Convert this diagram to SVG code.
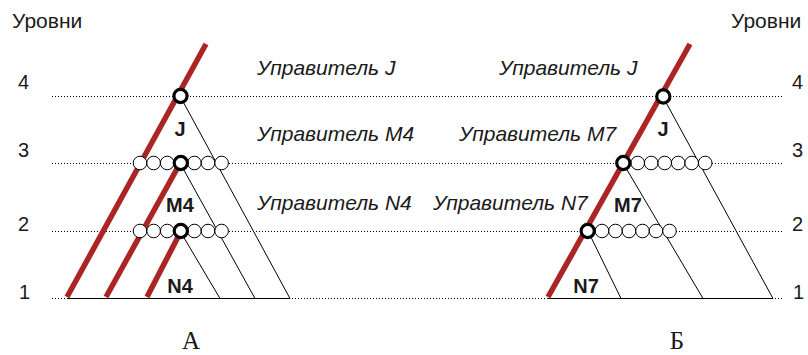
<svg xmlns="http://www.w3.org/2000/svg" width="808" height="355" viewBox="0 0 808 355">
<style>
.lvl{font-family:"Liberation Sans",Arial,sans-serif;font-size:20px;fill:#1a1a1a}
.ttl{font-family:"Liberation Sans",Arial,sans-serif;font-size:21px;fill:#1a1a1a}
.mgr{font-family:"Liberation Sans",Arial,sans-serif;font-size:21px;font-style:italic;fill:#1a1a1a}
.nm{font-family:"Liberation Sans",Arial,sans-serif;font-size:20px;font-weight:bold;fill:#1a1a1a;text-anchor:middle}
.cap{font-family:"Liberation Serif","Times New Roman",serif;font-size:25px;fill:#1a1a1a;text-anchor:middle}
.dot{stroke:#000;stroke-width:1;stroke-dasharray:1 2;fill:none}
.tri{stroke:#000;stroke-width:1;fill:none}
.red{stroke:#ab2524;stroke-width:5.5;fill:none}
.sc{fill:#fff;stroke:#000;stroke-width:1}
.bc{fill:#fff;stroke:#000;stroke-width:3.2}
</style>
<g id="levels">
<text class="ttl" x="12" y="28">Уровни</text>
<text class="ttl" x="731" y="28">Уровни</text>
<text class="lvl" x="18" y="89">4</text>
<text class="lvl" x="18" y="157">3</text>
<text class="lvl" x="18" y="231">2</text>
<text class="lvl" x="19" y="299">1</text>
<text class="lvl" x="792" y="89">4</text>
<text class="lvl" x="792" y="157">3</text>
<text class="lvl" x="792" y="231">2</text>
<text class="lvl" x="793" y="299">1</text>
<line class="dot" x1="52" y1="96.5" x2="783" y2="96.5"/>
<line class="dot" x1="52" y1="163.5" x2="783" y2="163.5"/>
<line class="dot" x1="52" y1="231.5" x2="783" y2="231.5"/>
<line class="dot" x1="52" y1="298.5" x2="783" y2="298.5"/>
</g>
<g id="connectors">
<line class="tri" x1="67" y1="298.5" x2="290" y2="298.5"/>
<line class="tri" x1="180" y1="96" x2="290" y2="298.5"/>
<line class="tri" x1="180" y1="163" x2="255" y2="298.5"/>
<line class="tri" x1="180" y1="231" x2="220" y2="298.5"/>
<line class="red" x1="206" y1="44" x2="67" y2="297"/>
<line class="red" x1="178" y1="167" x2="106" y2="297"/>
<line class="red" x1="179" y1="235" x2="147" y2="297"/>
<line class="tri" x1="548" y1="298.5" x2="773" y2="298.5"/>
<line class="tri" x1="663" y1="97" x2="773" y2="298.5"/>
<line class="tri" x1="623" y1="163" x2="703" y2="298.5"/>
<line class="tri" x1="588" y1="231" x2="621" y2="298.5"/>
<line class="red" x1="690" y1="44" x2="548" y2="297"/>
</g>
<g id="treeA">
<g id="rowA3">
<circle class="sc" cx="140" cy="163" r="6.8"/>
<circle class="sc" cx="153.6" cy="163" r="6.8"/>
<circle class="sc" cx="167.2" cy="163" r="6.8"/>
<circle class="sc" cx="194.4" cy="163" r="6.8"/>
<circle class="sc" cx="208" cy="163" r="6.8"/>
<circle class="sc" cx="221.6" cy="163" r="6.8"/>
<circle class="bc" cx="180.8" cy="163" r="6.6"/>
</g>
<g id="rowA2">
<circle class="sc" cx="140" cy="231" r="6.8"/>
<circle class="sc" cx="153.6" cy="231" r="6.8"/>
<circle class="sc" cx="167.2" cy="231" r="6.8"/>
<circle class="sc" cx="194.4" cy="231" r="6.8"/>
<circle class="sc" cx="208" cy="231" r="6.8"/>
<circle class="sc" cx="221.6" cy="231" r="6.8"/>
<circle class="bc" cx="180.8" cy="231" r="6.6"/>
</g>
<circle class="bc" cx="180.5" cy="96" r="6.6"/>
<text class="nm" x="180" y="136">J</text>
<text class="nm" x="180" y="212">M4</text>
<text class="nm" x="180" y="293">N4</text>
<text class="mgr" x="257" y="75">Управитель J</text>
<text class="mgr" x="257" y="141">Управитель M4</text>
<text class="mgr" x="257" y="210">Управитель N4</text>
<text class="cap" x="191" y="349">А</text>
</g>
<g id="treeB">
<g id="rowB3">
<circle class="sc" cx="637.7" cy="163" r="6.8"/>
<circle class="sc" cx="651.2" cy="163" r="6.8"/>
<circle class="sc" cx="664.7" cy="163" r="6.8"/>
<circle class="sc" cx="678.2" cy="163" r="6.8"/>
<circle class="sc" cx="691.7" cy="163" r="6.8"/>
<circle class="sc" cx="705.2" cy="163" r="6.8"/>
<circle class="bc" cx="623.3" cy="163" r="6.6"/>
</g>
<g id="rowB2">
<circle class="sc" cx="602" cy="231" r="6.8"/>
<circle class="sc" cx="615.5" cy="231" r="6.8"/>
<circle class="sc" cx="629" cy="231" r="6.8"/>
<circle class="sc" cx="642.5" cy="231" r="6.8"/>
<circle class="sc" cx="656" cy="231" r="6.8"/>
<circle class="sc" cx="669.5" cy="231" r="6.8"/>
<circle class="bc" cx="587.7" cy="231" r="6.6"/>
</g>
<circle class="bc" cx="663.3" cy="96.5" r="6.6"/>
<text class="nm" x="663" y="136">J</text>
<text class="nm" x="628" y="212">M7</text>
<text class="nm" x="586" y="293">N7</text>
<text class="mgr" x="499" y="75">Управитель J</text>
<text class="mgr" x="459" y="141">Управитель M7</text>
<text class="mgr" x="433" y="210">Управитель N7</text>
<text class="cap" x="677" y="349">Б</text>
</g>
</svg>
